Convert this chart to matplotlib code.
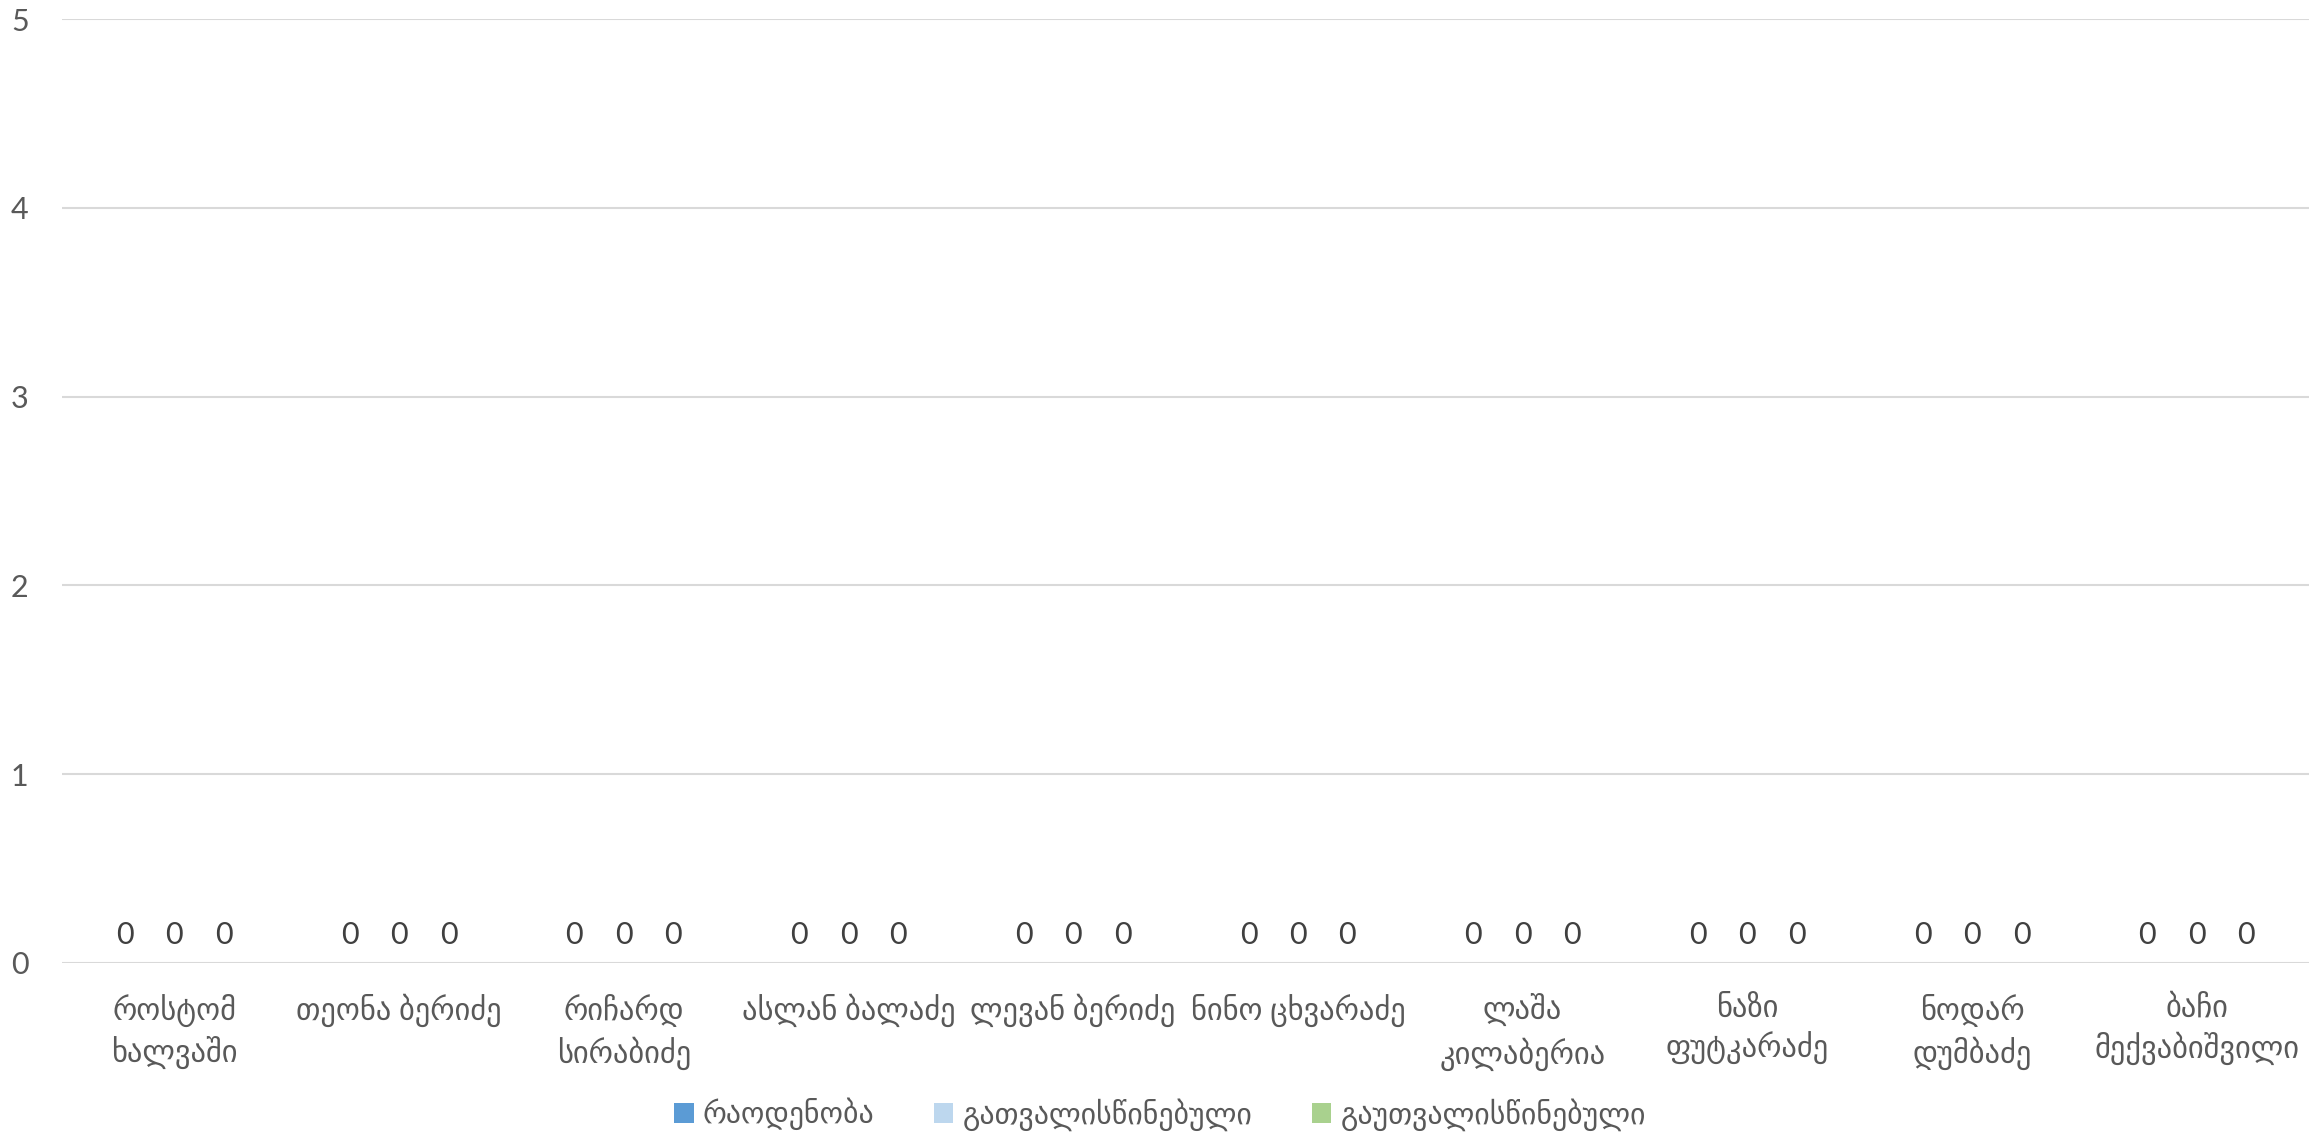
import matplotlib.pyplot as plt
import numpy as np

# data
names = ["როსტომ\nხალვაში", "თეონა ბერიძე", "რიჩარდ\nსირაბიძე", "ასლან ბალაძე",
         "ლევან ბერიძე", "ნინო ცხვარაძე", "ლაშა\nკილაბერია", "ნაზი\nფუტკარაძე",
         "ნოდარ\nდუმბაძე", "ბაჩი\nმექვაბიშვილი"]
series_names = ["რაოდენობა", "გათვალისწინებული", "გაუთვალისწინებული"]
quantity = [0, 0, 0, 0, 0, 0, 0, 0, 0, 0]
considered = [0, 0, 0, 0, 0, 0, 0, 0, 0, 0]
unforeseen = [0, 0, 0, 0, 0, 0, 0, 0, 0, 0]
colors = ["#5B9BD5", "#BDD7EE", "#A9D18E"]

plt.rcParams['font.family'] = ['Lato', 'DejaVu Sans']
text_color = "#595959"

fig = plt.figure(figsize=(23.2, 11.34), dpi=100)
ax = fig.add_axes([0.0267, 0.1508, 0.9686, 0.8324])

x = np.arange(len(names))
width = 0.22
for i, vals in enumerate([quantity, considered, unforeseen]):
    bars = ax.bar(x + (i - 1) * width, vals, width, color=colors[i], label=series_names[i])
    ax.bar_label(bars, padding=10, fontsize=22, color="#404040")

ax.set_xlim(-0.5, len(names) - 0.5)
ax.set_ylim(0, 5)
ax.set_yticks(range(6))
ax.yaxis.grid(True, color="#D9D9D9", linewidth=1.5)
ax.set_axisbelow(True)
for s in ax.spines.values():
    s.set_visible(False)
ax.tick_params(axis='both', length=0, colors=text_color, labelsize=22)
ax.tick_params(axis='y', pad=24)
ax.tick_params(axis='x', pad=22)
ax.set_xticks(x)
ax.set_xticklabels(names, fontsize=22, color=text_color, linespacing=1.4)

fig.legend(loc='lower center', bbox_to_anchor=(0.5, 0.003), ncol=3, frameon=False,
           borderaxespad=0, borderpad=0, fontsize=21.5, labelcolor=text_color,
           handlelength=0.65, handleheight=0.65, handletextpad=0.3, columnspacing=2.0)

fig.savefig("out.png")
